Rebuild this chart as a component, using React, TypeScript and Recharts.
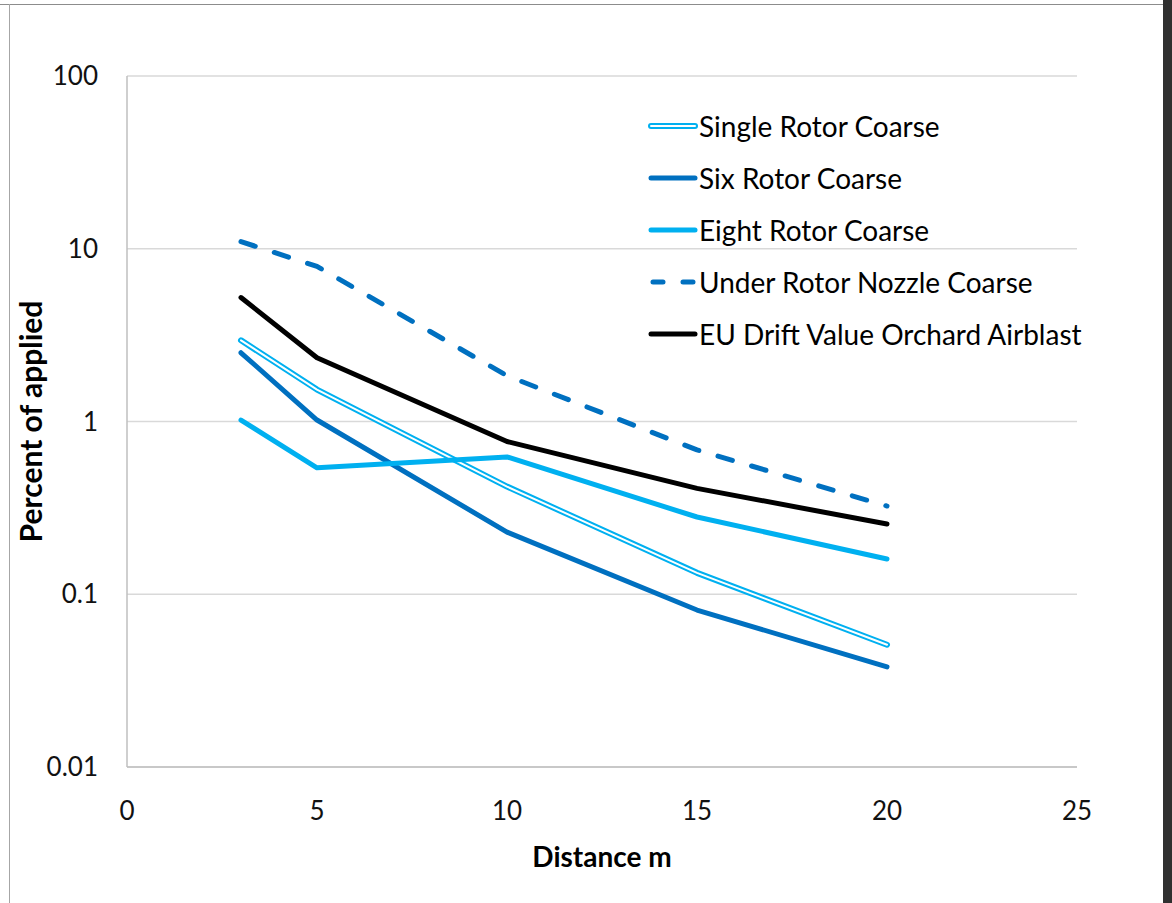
import { LineChart, Line, XAxis, YAxis, CartesianGrid, Legend, Label } from 'recharts'

// distance from sprayer (m)
const distances = [3, 5, 10, 15, 20]

// percent of applied
const singleRotor = [2.95, 1.53, 0.42, 0.133, 0.051]
const sixRotor = [2.5, 1.02, 0.229, 0.081, 0.038]
const eightRotor = [1.02, 0.539, 0.624, 0.28, 0.16]
const underRotorNozzle = [11.0, 7.9, 1.84, 0.685, 0.324]
const euDriftOrchard = [5.22, 2.34, 0.766, 0.41, 0.255]

const yTicks = [0.01, 0.1, 1, 10, 100]
const xTicks = [0, 5, 10, 15, 20, 25]

const chartData = distances.map((d, i) => ({
  distance: d,
  single: singleRotor[i],
  six: sixRotor[i],
  eight: eightRotor[i],
  under: underRotorNozzle[i],
  eu: euDriftOrchard[i],
}))

const FONT = 'Lato, "Open Sans", sans-serif'
const LIGHT_BLUE = '#00B0F0'
const DARK_BLUE = '#0070C0'

const legendItems = [
  { key: 'single', label: 'Single Rotor Coarse', color: LIGHT_BLUE, double: true },
  { key: 'six', label: 'Six Rotor Coarse', color: DARK_BLUE },
  { key: 'eight', label: 'Eight Rotor Coarse', color: LIGHT_BLUE },
  { key: 'under', label: 'Under Rotor Nozzle Coarse', color: DARK_BLUE, dashed: true },
  { key: 'eu', label: 'EU Drift Value Orchard Airblast', color: '#000000' },
]

function DriftLegend() {
  return (
    <div style={{ fontFamily: FONT }}>
      {legendItems.map(item => (
        <div key={item.key} style={{ display: 'flex', alignItems: 'center', height: 52 }}>
          <svg width={50} height={10}>
            {item.double ? (
              <>
                <line x1={3} y1={5} x2={47} y2={5} stroke={item.color} strokeWidth={6} strokeLinecap="round" />
                <line x1={3} y1={5} x2={47} y2={5} stroke="#fff" strokeWidth={2} strokeLinecap="round" />
              </>
            ) : (
              <line
                x1={item.dashed ? 5 : 3}
                y1={5}
                x2={item.dashed ? 45 : 47}
                y2={5}
                stroke={item.color}
                strokeWidth={5}
                strokeLinecap="round"
                strokeDasharray={item.dashed ? '10 20' : undefined}
              />
            )}
          </svg>
          <span style={{ fontSize: 28, color: '#000', marginLeft: 1, whiteSpace: 'nowrap' }}>{item.label}</span>
        </div>
      ))}
    </div>
  )
}

export default function App() {
  return (
    <div style={{ position: 'absolute', left: 0, top: 0, width: 1172, height: 903, background: '#fff', overflow: 'hidden' }}>
      {/* page frame seen around the figure */}
      <div style={{ position: 'absolute', left: 0, top: 4, width: 1163, height: 1, background: '#8c8c8c' }} />
      <div style={{ position: 'absolute', left: 9, top: 4, width: 1, height: 899, background: '#a6a6a6' }} />
      <div style={{ position: 'absolute', left: 1163, top: 0, width: 9, height: 903, background: '#303030' }} />

      <div style={{ position: 'absolute', left: 0, top: 0 }}>
        <LineChart
          width={1172}
          height={903}
          data={chartData}
          margin={{ top: 76, right: 95, bottom: 76, left: 47 }}
        >
          <CartesianGrid vertical={false} stroke="#d9d9d9" strokeWidth={1.5} />
          <XAxis
            dataKey="distance"
            type="number"
            domain={[0, 25]}
            ticks={xTicks}
            height={60}
            stroke="#bfbfbf"
            strokeWidth={1.5}
            tickLine={false}
            tickSize={0}
            tickMargin={35}
            tick={{ fontSize: 26, fill: '#111', fontFamily: FONT }}
          >
            <Label
              value="Distance m"
              position="bottom"
              offset={20}
              style={{ fontSize: 28, fontWeight: 700, fill: '#000', fontFamily: FONT }}
            />
          </XAxis>
          <YAxis
            scale="log"
            domain={[0.01, 100]}
            ticks={yTicks}
            allowDataOverflow
            width={80}
            stroke="#bfbfbf"
            strokeWidth={1.5}
            tickLine={false}
            tickSize={0}
            tickMargin={29}
            tick={{ fontSize: 26, fill: '#111', fontFamily: FONT }}
          >
            <Label
              value="Percent of applied"
              angle={-90}
              position="insideLeft"
              offset={-16}
              style={{ textAnchor: 'middle', fontSize: 30, fontWeight: 700, fill: '#000', fontFamily: FONT }}
            />
          </YAxis>
          <Legend
            layout="vertical"
            align="center"
            verticalAlign="middle"
            wrapperStyle={{ left: 648, top: 100, width: 480 }}
            content={() => <DriftLegend />}
          />

          {/* double line: wide blue stroke with a thin white core */}
          <Line dataKey="single" stroke={LIGHT_BLUE} strokeWidth={6} dot={false} strokeLinejoin="round" strokeLinecap="round" isAnimationActive={false} />
          <Line dataKey="single" stroke="#ffffff" strokeWidth={2} dot={false} strokeLinejoin="round" strokeLinecap="round" isAnimationActive={false} legendType="none" />
          <Line dataKey="six" stroke={DARK_BLUE} strokeWidth={5} dot={false} strokeLinejoin="round" strokeLinecap="round" isAnimationActive={false} />
          <Line dataKey="eight" stroke={LIGHT_BLUE} strokeWidth={5} dot={false} strokeLinejoin="round" strokeLinecap="round" isAnimationActive={false} />
          <Line dataKey="under" stroke={DARK_BLUE} strokeWidth={5} strokeDasharray="15 20" dot={false} strokeLinejoin="round" strokeLinecap="round" isAnimationActive={false} />
          <Line dataKey="eu" stroke="#000000" strokeWidth={5} dot={false} strokeLinejoin="round" strokeLinecap="round" isAnimationActive={false} />
        </LineChart>
      </div>
    </div>
  )
}
